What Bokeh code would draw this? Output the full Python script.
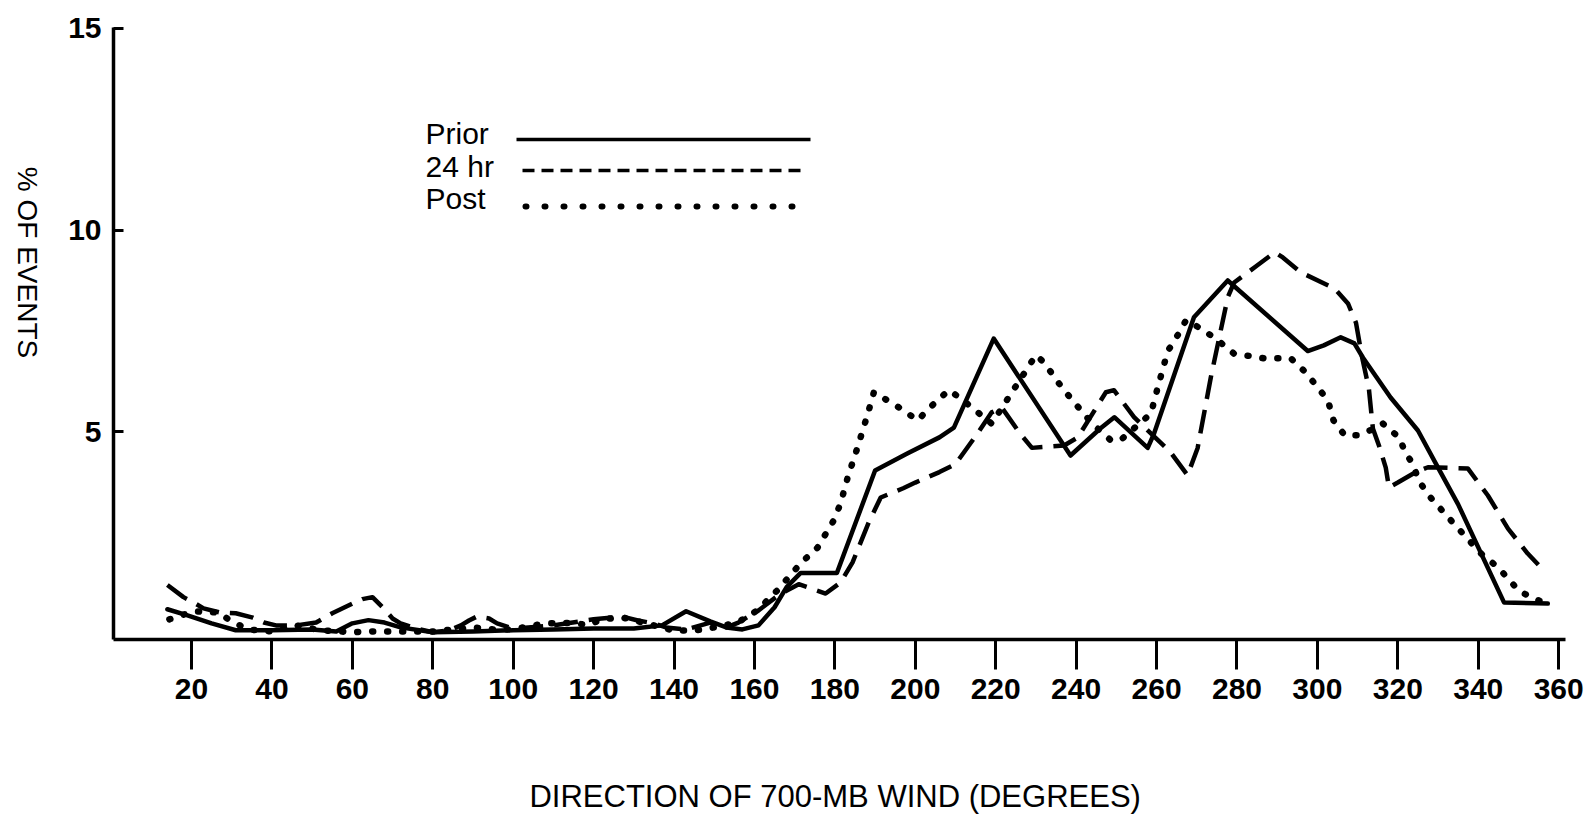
import math
from bokeh.plotting import figure
from bokeh.layouts import row
from bokeh.models import Range1d, FixedTicker, Label
from bokeh.embed import file_html
from bokeh.resources import INLINE

# ---------------- data ----------------
x_ticks = [20, 40, 60, 80, 100, 120, 140, 160, 180, 200, 220, 240, 260, 280, 300, 320, 340, 360]
y_ticks = [5, 10, 15]

prior_x = [14, 19, 25, 31, 40, 50, 56, 60, 64, 68, 72, 80, 90, 100, 110, 120, 130, 137, 143, 149,
           153, 157, 161, 165, 168, 171.5, 176, 180.5, 190, 198, 206, 209.6, 219.5, 238.6, 246, 249.5,
           257.8, 259.4, 269.3, 277.7, 297.6, 301.6, 305.8, 309.2, 311.3, 318.2, 325, 330, 335, 346.4, 357.3]
prior_y = [0.6, 0.45, 0.25, 0.08, 0.08, 0.1, 0.05, 0.25, 0.33, 0.27, 0.15, 0.03, 0.05, 0.08, 0.1, 0.12, 0.12, 0.2, 0.55, 0.3,
           0.15, 0.1, 0.2, 0.65, 1.15, 1.5, 1.5, 1.5, 4.04, 4.46, 4.86, 5.1, 7.31, 4.41, 5.08, 5.36,
           4.6, 4.96, 7.84, 8.75, 7.0, 7.14, 7.34, 7.19, 6.84, 5.85, 5.03, 4.11, 3.2, 0.77, 0.74]

hr24_x = [14, 18, 21, 23, 27, 31, 35, 38, 41, 46, 51, 55, 60, 62.5, 65, 68, 70, 72, 76, 80,
          84, 87, 89, 91, 94, 96, 100, 110, 120, 127, 131, 135, 138, 143, 149, 153, 156, 161, 166, 171,
          177.7, 181.4, 184.4, 188.4, 191.4, 197, 200, 206, 210, 215.5, 219, 221.5, 226, 229, 237, 240.4,
          247.4, 249.4, 254.4, 263.5, 267.7, 270.2, 273.5, 277.7, 279.3, 285, 289.4, 291.4, 295.9, 304.3,
          307.6, 309.6, 311, 312.8, 313.8, 315.3, 317, 317.8, 320, 324.5, 327.5, 337.4, 342.4, 347.4, 352.3, 356.3]
hr24_y = [1.2, 0.9, 0.74, 0.62, 0.52, 0.5, 0.4, 0.27, 0.2, 0.2, 0.27, 0.5, 0.74, 0.85, 0.9, 0.6, 0.37, 0.25, 0.12, 0.03,
          0.07, 0.2, 0.32, 0.42, 0.37, 0.25, 0.12, 0.2, 0.35, 0.42, 0.32, 0.25, 0.15, 0.1, 0.27, 0.15, 0.27, 0.57, 0.95, 1.22,
          0.99, 1.26, 1.76, 2.75, 3.37, 3.6, 3.74, 4.0, 4.2, 4.96, 5.48, 5.6, 4.96, 4.6, 4.66, 4.86,
          5.98, 6.03, 5.36, 4.49, 3.92, 4.59, 6.35, 8.33, 8.7, 9.12, 9.45, 9.32, 8.95, 8.55,
          8.18, 7.7, 6.9, 6.07, 5.08, 4.66, 4.11, 3.62, 3.74, 4.0, 4.12, 4.09, 3.42, 2.6, 1.98, 1.56]

post_x = [14.5, 20.5, 26.5, 30, 34, 40, 46, 52, 60, 65, 70, 80, 85, 90, 95, 100, 105, 108, 112, 115,
          118.5, 122, 127, 131, 135, 140, 145, 150, 155.8, 160.7, 165.7, 171.5, 175.7, 179.7, 181.4, 183.2,
          185.6, 188.2, 189.7, 193, 196.3, 200.6, 203.4, 205.6, 208.3, 211, 219, 230, 232.2, 234.6,
          237, 239.5, 244, 248.6, 251, 258.6, 260.3, 262.8, 265.3, 267.3, 271, 275.2, 279.2, 286.7,
          293.4, 297.1, 302.6, 304, 306.8, 310, 313, 316.3, 320.3, 322, 323.7, 325.2, 327.7, 332.5,
          340.7, 344.9, 350, 353, 356.3]
post_y = [0.35, 0.55, 0.52, 0.3, 0.1, 0.05, 0.2, 0.08, 0.03, 0.05, 0.05, 0.05, 0.1, 0.15, 0.1, 0.1, 0.2, 0.25, 0.25, 0.27,
          0.2, 0.35, 0.4, 0.3, 0.2, 0.07, 0.07, 0.15, 0.27, 0.57, 1.07, 1.74, 2.13, 2.8, 3.22, 3.87,
          4.6, 5.45, 5.98, 5.78, 5.58, 5.28, 5.58, 5.78, 6.03, 5.85, 5.2, 6.9, 6.7, 6.35,
          6.03, 5.73, 5.2, 4.79, 4.79, 5.45, 6.1, 7.0, 7.4, 7.76, 7.56, 7.27, 6.94, 6.82,
          6.82, 6.47, 5.78, 5.28, 4.91, 4.91, 5.03, 5.2, 4.86, 4.46, 4.21, 3.79, 3.42, 2.88,
          1.98, 1.64, 1.07, 0.9, 0.77]

series_names = ["Prior", "24 hr", "Post"]
x_title = "DIRECTION OF 700-MB WIND  (DEGREES)"
y_title = "% OF EVENTS"

# ---------------- layout ----------------
H = 821
TW = 60                      # width of the narrow strip that carries the y title
W = 1585 - TW
BL, BR, BT, BB = 113 - TW, 20, 27, 182
X0, X1 = 0.6, 361.7
Y0, Y1 = -0.15, 15.02

FRAME_L = TW + BL            # page x of the frame's left edge
FRAME_W = W - BL - BR
FRAME_H = H - BT - BB

def dx(px):  # page pixel -> data x
    return X0 + (px - FRAME_L) * (X1 - X0) / FRAME_W

def dy(py):  # page pixel -> data y
    return Y0 + (BT + FRAME_H - py) * (Y1 - Y0) / FRAME_H

TICKFONT = "Liberation Sans"
SANS = "Liberation Sans"

# narrow strip with the vertical y title (reads top to bottom); its frame is aligned
# with the main frame, so it shares the main plot's vertical range
t = figure(width=TW, height=H, output_backend="svg", toolbar_location=None,
           x_range=Range1d(0, TW), y_range=Range1d(Y0, Y1),
           x_axis_type=None, y_axis_type=None, min_border=0)
t.min_border_left = t.min_border_right = 0
t.min_border_top, t.min_border_bottom = BT, BB
t.outline_line_color = None
t.grid.visible = False
t.background_fill_color = "white"
t.border_fill_color = "white"
t.add_layout(Label(x=27, y=dy(262), text=y_title, text_font=SANS, text_font_size="28px",
                   text_align="center", text_baseline="middle", angle=-math.pi / 2,
                   text_color="black"))

p = figure(width=W, height=H, output_backend="svg", toolbar_location=None,
           x_range=Range1d(X0, X1), y_range=Range1d(Y0, Y1),
           min_border_left=BL, min_border_right=BR, min_border_top=BT, min_border_bottom=BB)
p.outline_line_color = None
p.grid.visible = False
p.background_fill_color = "white"
p.border_fill_color = "white"

# axes
for ax in (p.xaxis[0], p.yaxis[0]):
    ax.axis_line_width = 3.5
    ax.axis_line_color = "black"
    ax.major_tick_line_width = 3
    ax.major_tick_line_color = "black"
    ax.minor_tick_line_color = None
    ax.major_label_text_font = TICKFONT
    ax.major_label_text_font_style = "bold"
    ax.major_label_text_font_size = "30px"
    ax.major_label_text_color = "black"

p.xaxis.ticker = FixedTicker(ticks=x_ticks)
p.xaxis.major_tick_out = 30
p.xaxis.major_tick_in = 0
p.xaxis.major_label_standoff = 9
p.xaxis.axis_label = x_title
p.xaxis.axis_label_text_font = SANS
p.xaxis.axis_label_text_font_style = "normal"
p.xaxis.axis_label_text_font_size = "31px"
p.xaxis.axis_label_text_color = "black"
p.xaxis.axis_label_standoff = 77

p.yaxis.ticker = FixedTicker(ticks=y_ticks)
p.yaxis.major_tick_out = 0
p.yaxis.major_tick_in = 10
p.yaxis.major_label_standoff = 12

# series
p.line(prior_x, prior_y, line_color="black", line_width=4.5, line_join="round", line_cap="round")
p.line(hr24_x, hr24_y, line_color="black", line_width=4.5, line_dash="24 11", line_join="round")
p.line(post_x, post_y, line_color="black", line_width=6.5, line_dash="1 14", line_cap="round",
       line_join="round")

# legend (manual: text on the left, line sample on the right)
leg_text_x = 425
leg_rows = [(133, 139), (166, 170), (198, 206)]
leg_line = [(516, 810), (522, 803), (525, 797)]
for i, (name, (ty, ly), (lx0, lx1)) in enumerate(zip(series_names, leg_rows, leg_line)):
    p.add_layout(Label(x=dx(leg_text_x), y=dy(ty), text=name, text_font=SANS,
                       text_font_size="30px", text_align="left", text_baseline="middle",
                       text_color="black"))
    kw = dict(line_color="black")
    if i == 0:
        kw.update(line_width=3.5)
    elif i == 1:
        kw.update(line_width=3.5, line_dash="12 7")
    else:
        kw.update(line_width=6, line_dash="1 18", line_cap="round")
    p.line([dx(lx0), dx(lx1)], [dy(ly), dy(ly)], **kw)

layout = row(t, p, spacing=0)
open("out.html", "w").write(file_html(layout, INLINE))
